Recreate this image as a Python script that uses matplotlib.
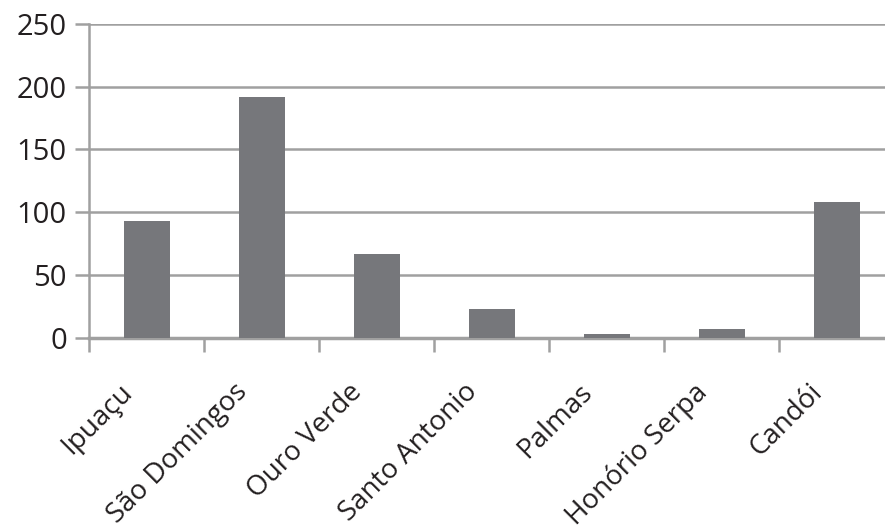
import matplotlib
matplotlib.use("Agg")
import matplotlib.pyplot as plt
import matplotlib.transforms as mtransforms
import numpy as np

categories = ["Ipuaçu", "São Domingos", "Ouro Verde", "Santo Antonio", "Palmas", "Honório Serpa", "Candói"]
values = [93, 192, 67, 23, 3, 7, 108]
yticks = [0, 50, 100, 150, 200, 250]

plt.rcParams['font.family'] = ['Open Sans', 'DejaVu Sans']

fig = plt.figure(figsize=(8.85, 5.3), dpi=100)
ax = fig.add_axes([89/885, 1 - 337.7/530, (894-89)/885, (337.7-24)/530])

x = np.arange(len(categories))
ax.bar(x, values, width=0.4, color="#76777b", zorder=3)

ax.set_xlim(-0.5, len(categories) - 0.5)
ax.set_ylim(0, 250)
ax.set_yticks(yticks)
ax.set_yticklabels([str(v) for v in yticks], fontsize=21, color="#231f20")
ax.yaxis.grid(True, color="#a0a0a0", linewidth=1.8, zorder=0)
ax.tick_params(axis='y', length=10, width=1.8, color="#a0a0a0", pad=6)

ax.set_xticks(x)
ax.set_xticklabels(categories, rotation=45, ha='right', rotation_mode='anchor',
                   fontsize=20, color="#231f20")
ax.set_xticks(np.arange(-0.5, len(categories), 1), minor=True)
ax.tick_params(axis='x', which='major', length=0, pad=29)
ax.tick_params(axis='x', which='minor', length=10, width=1.8, color="#a0a0a0")
offset = mtransforms.ScaledTranslation(-28/100, 0, fig.dpi_scale_trans)
for lbl in ax.get_xticklabels():
    lbl.set_transform(lbl.get_transform() + offset)

for s in ["top", "right"]:
    ax.spines[s].set_visible(False)
ax.spines["left"].set_color("#a0a0a0")
ax.spines["left"].set_linewidth(1.8)
ax.spines["bottom"].set_color("#a0a0a0")
ax.spines["bottom"].set_linewidth(2.5)

fig.savefig("out.png", dpi=100)
